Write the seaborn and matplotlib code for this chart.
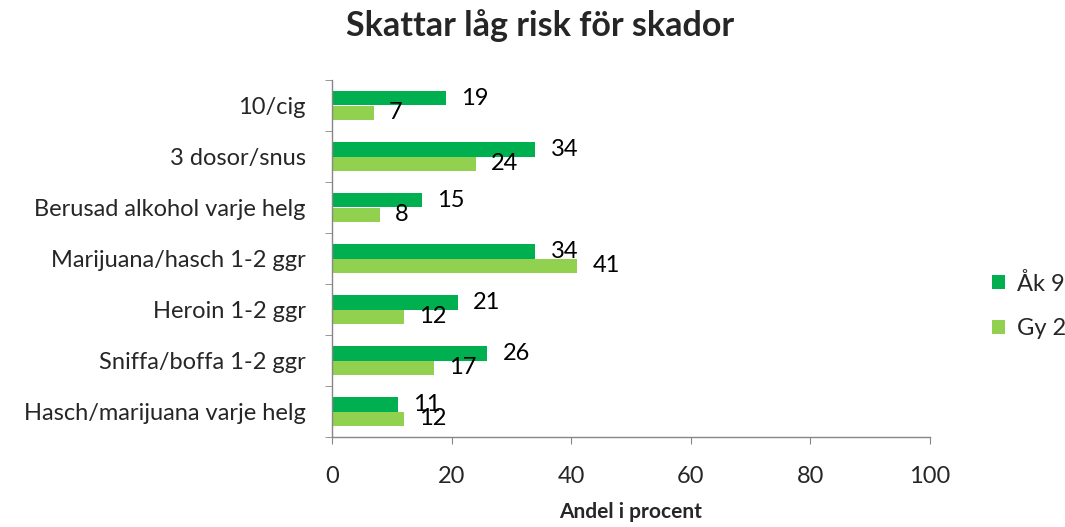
import matplotlib
matplotlib.use("Agg")
import matplotlib.pyplot as plt
import seaborn as sns
import pandas as pd
from matplotlib.patches import Patch
from matplotlib.ticker import FixedLocator

categories = ["10/cig", "3 dosor/snus", "Berusad alkohol varje helg",
              "Marijuana/hasch 1-2 ggr", "Heroin 1-2 ggr",
              "Sniffa/boffa 1-2 ggr", "Hasch/marijuana varje helg"]
ak9 = [19, 34, 15, 34, 21, 26, 11]
gy2 = [7, 24, 8, 41, 12, 17, 12]
series = ["Åk 9", "Gy 2"]
colors = ["#00B050", "#92D050"]
xticks = [0, 20, 40, 60, 80, 100]

df = pd.DataFrame({
    "Kategori": categories * 2,
    "Andel": ak9 + gy2,
    "Grupp": [series[0]] * len(categories) + [series[1]] * len(categories),
})

sns.set_style("white")
plt.rcParams["font.family"] = ["Lato", "DejaVu Sans"]

FS = 17

fig = plt.figure(figsize=(10.65, 5.27), dpi=100)
ax = fig.add_axes([332/1065, 1 - 437/527, (930-332)/1065, (437-80)/527])

sns.barplot(data=df, y="Kategori", x="Andel", hue="Grupp", order=categories,
            hue_order=series, palette=colors, orient="h", width=0.57,
            gap=0, saturation=1, ax=ax, legend=False, edgecolor="none")

for cont in ax.containers:
    ax.bar_label(cont, labels=[f"{v:.0f}" for v in cont.datavalues],
                 padding=11, fontsize=FS, color="black")

ax.set_xlim(0, 100)
ax.set_ylim(len(categories) - 0.5, -0.5)
ax.set_xticks(xticks)
ax.set_xticklabels([str(t) for t in xticks], fontsize=FS)
ax.set_ylabel("")
ax.set_xlabel("Andel i procent", fontsize=15, fontweight="bold", labelpad=11)
ax.tick_params(axis="y", which="major", length=0, pad=19, labelsize=FS)
ax.yaxis.set_minor_locator(FixedLocator([i - 0.5 for i in range(len(categories) + 1)]))
ax.tick_params(axis="y", which="minor", length=5, color="#868686", direction="out", left=True)
ax.tick_params(axis="x", length=5, color="#868686", direction="out", pad=16, bottom=True)
for s in ["top", "right"]:
    ax.spines[s].set_visible(False)
for s in ["left", "bottom"]:
    ax.spines[s].set_color("#868686")
    ax.spines[s].set_linewidth(1)
ax.grid(False)

fig.text(540/1065, 1 - 26/527, "Skattar låg risk för skador", ha="center", va="center",
         fontsize=24.5, fontweight="bold")

handles = [Patch(facecolor=c, edgecolor="none", label=s) for c, s in zip(colors, series)]
fig.legend(handles=handles, loc="center left", bbox_to_anchor=(992/1065, 1 - 306/527),
           frameon=False, fontsize=FS, handlelength=0.55, handleheight=0.55,
           handletextpad=0.5, labelspacing=1.0, borderpad=0, borderaxespad=0)

fig.savefig("out.png", dpi=100)
